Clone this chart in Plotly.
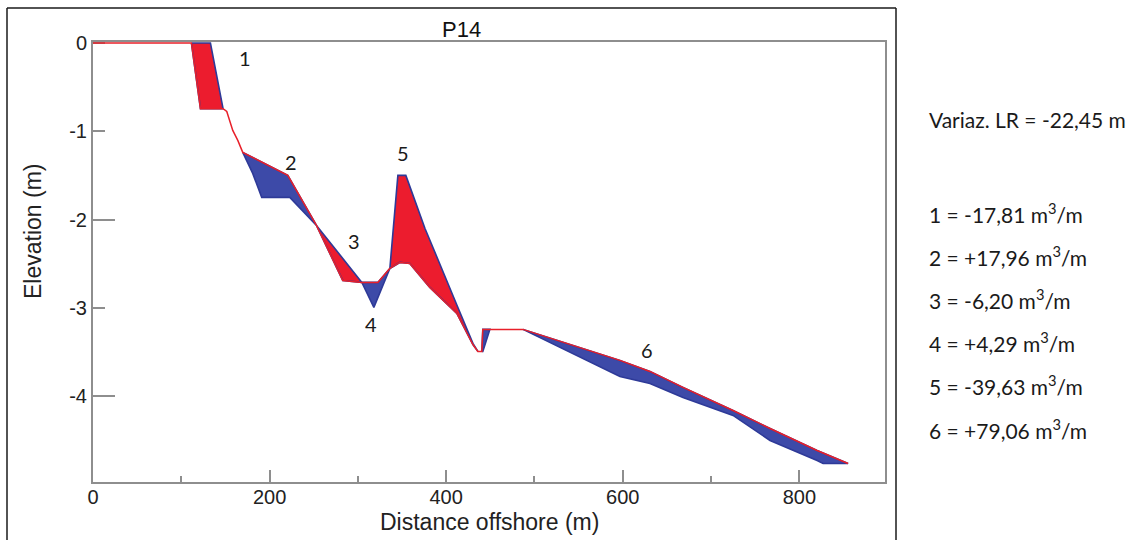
import numpy as np
import plotly.graph_objects as go

# ---------------- data ----------------
# earlier survey profile (outlined in blue)
old_x = [0, 133.0, 147.3, 151.5, 158.3, 164.0, 169.6, 180.9, 191.1, 222.9, 253.1,
         304.5, 318.1, 336.2, 345.3, 354.3, 376.0, 410.0, 430.3, 435.9, 441.5,
         449.5, 487.0, 498.3, 596.8, 630.8, 668.2, 724.9, 766.8, 820.1, 826.9, 855.2]
old_y = [0, 0, -0.743, -0.774, -0.989, -1.102, -1.238, -1.476, -1.747, -1.747, -2.065,
         -2.710, -2.993, -2.552, -1.498, -1.498, -2.099, -2.915, -3.401, -3.491, -3.491,
         -3.242, -3.242, -3.299, -3.775, -3.854, -4.012, -4.216, -4.500, -4.726, -4.760, -4.760]
# later survey profile (red line)
new_x = [0, 111.5, 121.7, 147.3, 151.5, 158.3, 164.0, 169.6, 220.6, 253.1, 282.9,
         304.5, 322.6, 336.2, 347.5, 358.8, 381.5, 412.1, 430.3, 435.9, 440.4, 441.5,
         487.0, 596.8, 630.8, 668.2, 724.9, 766.8, 820.1, 855.2]
new_y = [0, 0, -0.743, -0.743, -0.774, -0.989, -1.102, -1.238, -1.498, -2.065, -2.688,
         -2.710, -2.710, -2.552, -2.484, -2.495, -2.767, -3.061, -3.413, -3.491, -3.491, -3.242,
         -3.242, -3.593, -3.718, -3.899, -4.160, -4.364, -4.613, -4.760]

zone_names = ["1", "2", "3", "4", "5", "6"]
zone_label_x = [171.9, 224.0, 295.4, 314.7, 350.9, 627.3]
zone_label_y = [-0.17, -1.35, -2.24, -3.18, -1.25, -3.48]
zone_volumes = ["-17,81", "+17,96", "-6,20", "+4,29", "-39,63", "+79,06"]
shoreline_change = "-22,45"
profile_name = "P14"

x_tick_vals = [0, 200, 400, 600, 800]
x_minor_vals = [100, 300, 500, 700]
y_tick_vals = [0, -1, -2, -3, -4]
y_tick_text = ["0", "-1", "-2", "-3", "-4"]
y_long_vals = [-2, -4]

RED = "#EC1C2E"
BLUE = "#3D4AA8"
OUTLINE = "#2E3A98"
AXC = "#8E8E8E"

# ---------------- build fill polygons between profiles ----------------
xs = np.union1d(old_x, new_x)
yo = np.interp(xs, old_x, old_y)
yn = np.interp(xs, new_x, new_y)
d = yn - yo
gx, go_, gn = [xs[0]], [yo[0]], [yn[0]]
for i in range(len(xs) - 1):
    if d[i] * d[i + 1] < 0:
        t = d[i] / (d[i] - d[i + 1])
        xc = xs[i] + t * (xs[i + 1] - xs[i])
        yc = yo[i] + t * (yo[i + 1] - yo[i])
        gx.append(xc); go_.append(yc); gn.append(yc)
    gx.append(xs[i + 1]); go_.append(yo[i + 1]); gn.append(yn[i + 1])
gx, go_, gn = np.array(gx), np.array(go_), np.array(gn)
gd = gn - go_

groups = []
cur = None
for i in range(len(gx) - 1):
    m = (gd[i] + gd[i + 1]) / 2.0
    s = 0 if abs(m) < 1e-6 else np.sign(m)
    if s == 0:
        if cur is not None:
            groups.append(cur); cur = None
        continue
    if cur is not None and cur[0] == s:
        cur[2] = i + 1
    else:
        if cur is not None:
            groups.append(cur)
        cur = [s, i, i + 1]
if cur is not None:
    groups.append(cur)

fig = go.Figure()
for s, a, b in groups:
    px_ = list(gx[a:b + 1]) + list(gx[a:b + 1][::-1])
    py_ = list(gn[a:b + 1]) + list(go_[a:b + 1][::-1])
    fig.add_trace(go.Scatter(x=px_, y=py_, mode="lines", fill="toself",
                             fillcolor=RED if s < 0 else BLUE,
                             line=dict(color=OUTLINE, width=1.6),
                             hoverinfo="skip", showlegend=False))

fig.add_trace(go.Scatter(x=new_x, y=new_y, mode="lines",
                         line=dict(color="#E8202A", width=1.5),
                         showlegend=False, hoverinfo="skip"))

for nm, lx, ly in zip(zone_names, zone_label_x, zone_label_y):
    fig.add_annotation(x=lx, y=ly, text=nm, showarrow=False,
                       xanchor="center", yanchor="middle",
                       font=dict(family="Lato, Open Sans, sans-serif", size=20, color="#1a1a1a"))

# ---------------- layout ----------------
L, T = 93, 42
W, H = 792, 440


def ppx(x):
    return (x - L) / W


def ppy(y):
    return 1 - (y - T) / H


TICKFONT = dict(family="Liberation Sans, Arial, sans-serif", size=20, color="#222222")

fig.update_layout(
    width=1140, height=540,
    margin=dict(l=L, r=1140 - L - W, t=T, b=540 - T - H),
    plot_bgcolor="white", paper_bgcolor="white",
    showlegend=False,
    xaxis=dict(range=[0, 897], tickvals=x_tick_vals, ticks="inside",
               ticklen=12, tickwidth=2, tickcolor=AXC,
               minor=dict(tickvals=x_minor_vals, ticks="inside", ticklen=6,
                          tickwidth=2, tickcolor=AXC, showgrid=False),
               showline=True, linecolor=AXC, linewidth=2, mirror=True,
               showgrid=False, zeroline=False, tickfont=TICKFONT, layer="below traces",
               ticklabelstandoff=-4),
    yaxis=dict(range=[-4.97, 0.012], tickvals=y_tick_vals, ticktext=y_tick_text,
               ticks="inside", ticklen=12, tickwidth=2, tickcolor=AXC,
               showline=True, linecolor=AXC, linewidth=2, mirror=True,
               showgrid=False, zeroline=False, tickfont=TICKFONT, layer="below traces"),
    yaxis2=dict(range=[-4.97, 0.012], overlaying="y", side="left", tickvals=y_long_vals,
                ticks="inside", ticklen=22, tickwidth=2, tickcolor=AXC,
                showticklabels=False, showline=False, showgrid=False, zeroline=False,
                layer="below traces"),
)
# invisible trace to activate yaxis2
fig.add_trace(go.Scatter(x=[0], y=[0], yaxis="y2", mode="markers",
                         marker=dict(opacity=0), hoverinfo="skip", showlegend=False))

AXFONT = dict(family="Liberation Sans, Arial, sans-serif", size=23, color="#222222")
fig.add_annotation(xref="paper", yref="paper", x=ppx(461), y=ppy(29), text=profile_name,
                   showarrow=False, xanchor="center", yanchor="middle",
                   font=dict(family="Liberation Sans, Arial, sans-serif", size=22, color="#111111"))
fig.add_annotation(xref="paper", yref="paper", x=ppx(489), y=ppy(522),
                   text="Distance offshore (m)", showarrow=False,
                   xanchor="center", yanchor="middle", font=AXFONT)
fig.add_annotation(xref="paper", yref="paper", x=ppx(33), y=ppy(232),
                   text="Elevation (m)", textangle=-90, showarrow=False,
                   xanchor="center", yanchor="middle", font=AXFONT)

RFONT = dict(family="Lato, Open Sans, sans-serif", size=21, color="#1a1a1a")
fig.add_annotation(xref="paper", yref="paper", x=ppx(927), y=ppy(120),
                   xanchor="left", yanchor="middle",
                   text=f"Variaz. LR = {shoreline_change} m", showarrow=False, font=RFONT)
line_y = [213, 256, 299, 342, 385, 429]
for nm, vol, yy in zip(zone_names, zone_volumes, line_y):
    fig.add_annotation(xref="paper", yref="paper", x=ppx(927), y=ppy(yy),
                       xanchor="left", yanchor="middle",
                       text=f"{nm} = {vol} m<sup>3</sup>/m", showarrow=False, font=RFONT)

# outer frame (left, top, right)
for x0, y0, x1, y1 in [(7, 8, 7, 545), (7, 8, 896, 8), (896, 8, 896, 545)]:
    fig.add_shape(type="line", xref="paper", yref="paper",
                  x0=ppx(x0), y0=ppy(y0), x1=ppx(x1), y1=ppy(y1),
                  line=dict(color="#1a1a1a", width=1.5))

fig.write_html("out.html", config={"displayModeBar": False},
               post_script="document.body.style.margin='0';document.body.style.padding='0';")
